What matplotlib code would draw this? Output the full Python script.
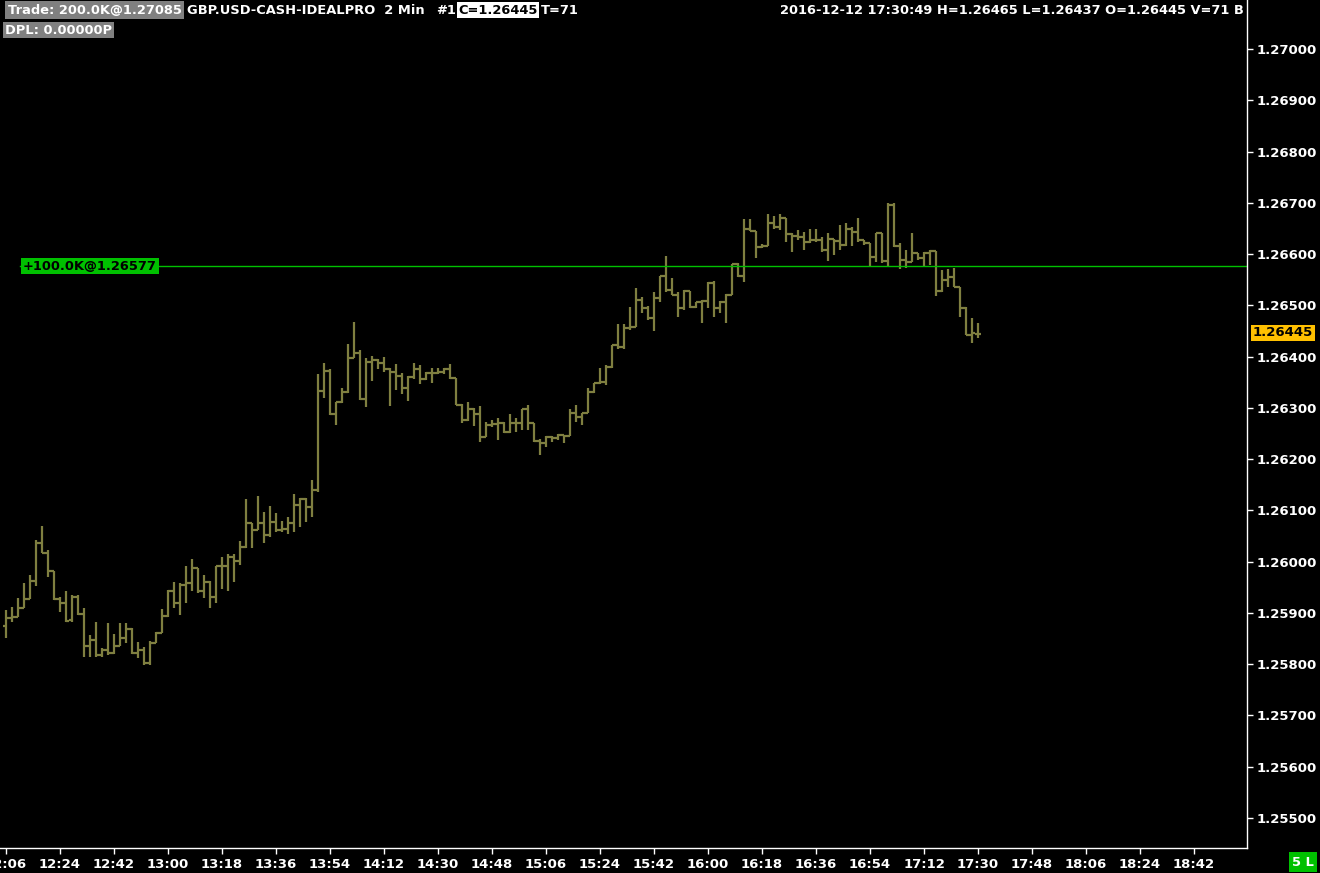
import numpy as np
import matplotlib
matplotlib.use("Agg")
import matplotlib.pyplot as plt

# 2 minute bars, GBP.USD, 12:06 -> 17:30 (prices in 1e-5)
bar_open = [125875, 125890, 125892, 125910, 125927, 125962, 126036, 126017, 125982, 125927,
            125919, 125886, 125931, 125898, 125836, 125847, 125818, 125828, 125822, 125836,
            125851, 125869, 125822, 125828, 125802, 125841, 125861, 125894, 125943, 125919,
            125955, 125958, 125988, 125943, 125960, 125931, 125992, 125992, 126009, 126001,
            126029, 126075, 126062, 126075, 126052, 126077, 126062, 126064, 126075, 126111,
            126122, 126107, 126140, 126333, 126372, 126288, 126311, 126331, 126397, 126407,
            126317, 126389, 126393, 126388, 126376, 126370, 126362, 126339, 126360, 126376,
            126356, 126368, 126368, 126370, 126376, 126358, 126306, 126276, 126298, 126288,
            126243, 126267, 126269, 126270, 126253, 126270, 126270, 126298, 126270, 126235,
            126231, 126243, 126241, 126247, 126245, 126290, 126282, 126290, 126331, 126349,
            126350, 126380, 126423, 126419, 126456, 126458, 126510, 126495, 126475, 126514,
            126557, 126530, 126520, 126495, 126528, 126497, 126506, 126508, 126544, 126495,
            126506, 126520, 126581, 126557, 126649, 126645, 126614, 126616, 126661, 126653,
            126670, 126639, 126635, 126633, 126624, 126627, 126627, 126608, 126629, 126625,
            126618, 126649, 126643, 126627, 126622, 126594, 126641, 126586, 126696, 126616,
            126588, 126585, 126602, 126592, 126602, 126606, 126528, 126549, 126555, 126536,
            126495, 126442, 126445]
bar_high = [125906, 125912, 125929, 125958, 125974, 126042, 126070, 126023, 125982, 125931,
            125943, 125935, 125935, 125910, 125857, 125882, 125832, 125880, 125859, 125880,
            125880, 125871, 125843, 125834, 125845, 125863, 125908, 125945, 125960, 125958,
            125992, 126005, 125988, 125974, 125962, 125992, 126009, 126015, 126015, 126040,
            126122, 126075, 126128, 126097, 126109, 126095, 126079, 126087, 126132, 126124,
            126124, 126159, 126366, 126388, 126376, 126311, 126339, 126425, 126467, 126413,
            126397, 126401, 126395, 126399, 126378, 126386, 126368, 126362, 126388, 126384,
            126370, 126378, 126378, 126378, 126386, 126358, 126308, 126311, 126300, 126304,
            126272, 126276, 126280, 126272, 126288, 126280, 126298, 126306, 126270, 126239,
            126245, 126245, 126249, 126247, 126298, 126306, 126290, 126339, 126349, 126378,
            126384, 126423, 126464, 126464, 126497, 126534, 126516, 126499, 126526, 126557,
            126596, 126553, 126526, 126530, 126528, 126506, 126510, 126545, 126547, 126508,
            126522, 126581, 126583, 126668, 126668, 126645, 126620, 126678, 126674, 126678,
            126670, 126641, 126647, 126643, 126649, 126649, 126633, 126641, 126629, 126657,
            126661, 126653, 126670, 126627, 126622, 126641, 126641, 126700, 126700, 126622,
            126608, 126641, 126602, 126604, 126608, 126606, 126569, 126571, 126573, 126536,
            126497, 126475, 126465]
bar_low = [125851, 125882, 125892, 125910, 125927, 125953, 126017, 125970, 125925, 125902,
           125882, 125882, 125896, 125814, 125814, 125814, 125814, 125818, 125820, 125836,
           125841, 125820, 125812, 125798, 125798, 125841, 125861, 125892, 125910, 125896,
           125919, 125943, 125939, 125929, 125910, 125919, 125947, 125943, 125960, 125993,
           126027, 126027, 126062, 126036, 126048, 126058, 126058, 126054, 126058, 126068,
           126077, 126087, 126136, 126319, 126286, 126267, 126309, 126329, 126397, 126315,
           126302, 126352, 126376, 126370, 126304, 126335, 126327, 126313, 126356, 126347,
           126354, 126349, 126366, 126366, 126356, 126306, 126270, 126274, 126265, 126233,
           126243, 126263, 126237, 126251, 126251, 126253, 126257, 126257, 126233, 126208,
           126224, 126233, 126237, 126231, 126245, 126272, 126267, 126290, 126329, 126347,
           126345, 126378, 126415, 126415, 126452, 126458, 126485, 126471, 126450, 126506,
           126526, 126520, 126477, 126491, 126495, 126495, 126466, 126495, 126477, 126485,
           126466, 126520, 126555, 126545, 126645, 126592, 126612, 126616, 126649, 126647,
           126624, 126604, 126627, 126608, 126622, 126624, 126604, 126586, 126598, 126608,
           126616, 126616, 126624, 126618, 126577, 126585, 126583, 126575, 126614, 126571,
           126573, 126585, 126588, 126577, 126579, 126518, 126526, 126536, 126536, 126477,
           126442, 126427, 126437]
bar_close = [125890, 125892, 125910, 125927, 125962, 126036, 126017, 125982, 125927, 125919,
             125884, 125931, 125898, 125836, 125847, 125818, 125828, 125822, 125836, 125851,
             125869, 125822, 125828, 125802, 125841, 125861, 125894, 125943, 125919, 125955,
             125958, 125988, 125943, 125960, 125931, 125992, 125992, 126009, 126001, 126029,
             126075, 126062, 126075, 126052, 126077, 126062, 126064, 126075, 126111, 126122,
             126107, 126140, 126333, 126372, 126288, 126311, 126331, 126397, 126407, 126317,
             126389, 126393, 126388, 126376, 126370, 126362, 126339, 126360, 126376, 126356,
             126368, 126368, 126370, 126376, 126358, 126306, 126276, 126298, 126288, 126243,
             126267, 126269, 126270, 126253, 126270, 126270, 126298, 126270, 126235, 126231,
             126243, 126241, 126247, 126245, 126290, 126282, 126290, 126331, 126349, 126350,
             126380, 126423, 126419, 126456, 126458, 126510, 126495, 126475, 126514, 126557,
             126530, 126520, 126495, 126528, 126497, 126506, 126508, 126544, 126495, 126506,
             126520, 126581, 126557, 126649, 126645, 126614, 126616, 126661, 126653, 126670,
             126639, 126635, 126633, 126624, 126627, 126627, 126608, 126629, 126625, 126618,
             126649, 126643, 126627, 126622, 126594, 126641, 126586, 126696, 126616, 126588,
             126585, 126602, 126592, 126602, 126606, 126528, 126549, 126555, 126536, 126495,
             126442, 126446, 126445]

time_labels = ['12:06', '12:24', '12:42', '13:00', '13:18', '13:36', '13:54', '14:12',
               '14:30', '14:48', '15:06', '15:24', '15:42', '16:00', '16:18', '16:36',
               '16:54', '17:12', '17:30', '17:48', '18:06', '18:24', '18:42']
price_ticks = [1.255, 1.256, 1.257, 1.258, 1.259, 1.260, 1.261, 1.262,
               1.263, 1.264, 1.265, 1.266, 1.267, 1.268, 1.269, 1.270]
position_price = 1.26577
last_price = 1.26445

o = np.array(bar_open) / 1e5
h = np.array(bar_high) / 1e5
l = np.array(bar_low) / 1e5
c = np.array(bar_close) / 1e5
idx = np.arange(len(o))

W, H = 1320, 873
fig = plt.figure(figsize=(W / 100, H / 100), dpi=100, facecolor='black')
ax = fig.add_axes([0, 25 / H, 1247 / W, 848 / H], facecolor='black')

def fx(x):
    return x / W

def fy(y):
    return 1 - y / H

bar_col = '#7f7f40'
ax.vlines(idx, l, h, color=bar_col, lw=1.6)
ax.hlines(o, idx - 0.5, idx, color=bar_col, lw=1.6)
ax.hlines(c, idx, idx + 0.5, color=bar_col, lw=1.6)

ax.axhline(position_price, xmin=20 / 1247, color='#00c000', lw=1)

ax.set_xlim(-1, 206.83)
ax.set_ylim(1.254415, 1.270956)

ax.set_xticks(np.arange(0, 9 * len(time_labels), 9))
ax.set_xticklabels(time_labels)
ax.set_yticks(price_ticks)
ax.set_yticklabels(['%.5f' % p for p in price_ticks])
ax.yaxis.tick_right()
ax.tick_params(colors='white', labelcolor='white', length=4, width=1, labelsize=9.5)
ax.tick_params(axis='x', pad=3)
ax.tick_params(axis='y', pad=3)
for t in ax.get_xticklabels() + ax.get_yticklabels():
    t.set_fontweight('bold')
for s in ['top', 'left']:
    ax.spines[s].set_visible(False)
for s in ['right', 'bottom']:
    ax.spines[s].set_color('white')
    ax.spines[s].set_linewidth(1)

fs = 9.4

# labels
fig.text(fx(23), fy(266), '+100.0K@1.26577', color='black', fontsize=fs, fontweight='bold',
         va='center', ha='left',
         bbox=dict(facecolor='#00c000', edgecolor='none', boxstyle='square,pad=0.15'))
fig.text(fx(1253), fy(333), '1.26445', color='black', fontsize=9.5, fontweight='bold',
         va='center', ha='left',
         bbox=dict(facecolor='#ffc000', edgecolor='none', boxstyle='square,pad=0.15'))

# header
fig.text(fx(8), fy(10), 'Trade: 200.0K@1.27085', color='white', fontsize=fs, fontweight='bold',
         va='center', ha='left',
         bbox=dict(facecolor='#808080', edgecolor='none', boxstyle='square,pad=0.2'))
fig.text(fx(187), fy(10), 'GBP.USD-CASH-IDEALPRO  2 Min', color='white', fontsize=fs,
         fontweight='bold', va='center', ha='left')
fig.text(fx(436), fy(10), '#1', color='white', fontsize=fs, fontweight='bold',
         va='center', ha='left')
fig.text(fx(458), fy(10), 'C=1.26445', color='black', fontsize=fs, fontweight='bold',
         va='center', ha='left',
         bbox=dict(facecolor='white', edgecolor='none', boxstyle='square,pad=0.1'))
fig.text(fx(541), fy(10), 'T=71', color='white', fontsize=fs, fontweight='bold',
         va='center', ha='left')
fig.text(fx(5), fy(30), 'DPL: 0.00000P', color='white', fontsize=fs, fontweight='bold',
         va='center', ha='left',
         bbox=dict(facecolor='#808080', edgecolor='none', boxstyle='square,pad=0.15'))
fig.text(fx(1244), fy(10), '2016-12-12 17:30:49 H=1.26465 L=1.26437 O=1.26445 V=71 B',
         color='white', fontsize=fs, fontweight='bold', va='center', ha='right')

fig.text(fx(1303), fy(862), '5 L', color='white', fontsize=fs, fontweight='bold',
         va='center', ha='center',
         bbox=dict(facecolor='#00c000', edgecolor='none', boxstyle='square,pad=0.25'))

fig.savefig('out.png', dpi=100, facecolor='black')
